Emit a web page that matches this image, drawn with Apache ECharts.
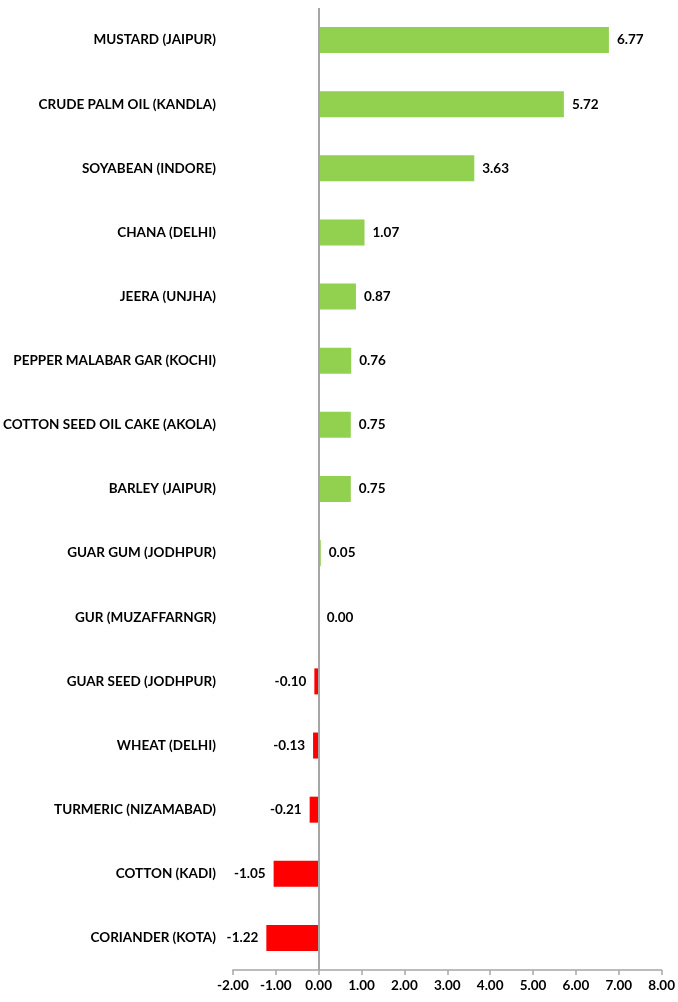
<!DOCTYPE html>
<html>
<head>
<meta charset="utf-8">
<script src="https://cdn.jsdelivr.net/npm/echarts@6/dist/echarts.min.js"></script>
<style>
  html, body { margin: 0; padding: 0; background: #fff; }
  #chart { width: 678px; height: 1002px; }
</style>
</head>
<body>
<div id="chart"></div>
<script>
// Weekly price change (%) by commodity and market
const categories = [
  'MUSTARD (JAIPUR)',
  'CRUDE PALM OIL (KANDLA)',
  'SOYABEAN (INDORE)',
  'CHANA (DELHI)',
  'JEERA (UNJHA)',
  'PEPPER MALABAR GAR (KOCHI)',
  'COTTON SEED OIL CAKE (AKOLA)',
  'BARLEY (JAIPUR)',
  'GUAR GUM (JODHPUR)',
  'GUR (MUZAFFARNGR)',
  'GUAR SEED (JODHPUR)',
  'WHEAT (DELHI)',
  'TURMERIC (NIZAMABAD)',
  'COTTON (KADI)',
  'CORIANDER (KOTA)'
];
const changes = [6.77, 5.72, 3.63, 1.07, 0.87, 0.76, 0.75, 0.75, 0.05, 0.00, -0.10, -0.13, -0.21, -1.05, -1.22];
const xTicks = { min: -2, max: 8, step: 1 };

const FONT = 'Lato, "Open Sans", sans-serif';
const SIZE = 13.5;
const POS = '#92D050';
const NEG = '#FF0000';

const barData = changes.map(v => ({
  value: v,
  itemStyle: { color: v < 0 ? NEG : POS },
  label: { position: v < 0 ? 'left' : 'right' }
}));

const chart = echarts.init(document.getElementById('chart'), null, { renderer: 'canvas' });
chart.setOption({
  animation: false,
  backgroundColor: '#ffffff',
  grid: { left: 232, right: 15, top: 8, bottom: 32, containLabel: false },
  xAxis: {
    type: 'value',
    min: xTicks.min,
    max: xTicks.max,
    interval: xTicks.step,
    position: 'bottom',
    axisLine: { show: true, onZero: false, lineStyle: { color: '#A6A6A6', width: 1.5 } },
    axisTick: { show: true, length: 5, inside: false, lineStyle: { color: '#A6A6A6', width: 1.5 } },
    axisLabel: {
      margin: 9,
      color: '#000',
      fontFamily: FONT,
      fontWeight: 'bold',
      fontSize: SIZE,
      formatter: v => v.toFixed(2)
    },
    splitLine: { show: false }
  },
  yAxis: {
    type: 'category',
    data: categories,
    inverse: true,
    axisLine: { show: false },
    axisTick: { show: false },
    axisLabel: {
      margin: 17,
      color: '#000',
      fontFamily: FONT,
      fontWeight: 'bold',
      fontSize: SIZE
    },
    splitLine: { show: false }
  },
  series: [{
    type: 'bar',
    data: barData,
    barWidth: 26,
    label: {
      show: true,
      distance: 8,
      color: '#000',
      fontFamily: FONT,
      fontWeight: 'bold',
      fontSize: SIZE,
      formatter: p => p.value.toFixed(2)
    },
    markLine: {
      silent: true,
      symbol: 'none',
      label: { show: false },
      lineStyle: { color: '#A6A6A6', width: 2, type: 'solid' },
      data: [{ xAxis: 0 }]
    }
  }]
});
</script>
</body>
</html>
